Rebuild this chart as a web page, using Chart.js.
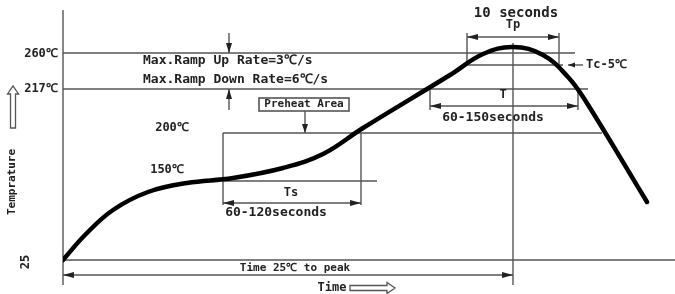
<!DOCTYPE html>
<html>
<head>
<meta charset="utf-8">
<script src="https://cdn.jsdelivr.net/npm/chart.js@4"></script>
<style>
html, body { margin: 0; padding: 0; background: #fff; }
</style>
</head>
<body>
<canvas id="myChart" width="675" height="294"></canvas>
<script>
// reflow profile, schematic units (time along x, height above the 25 line along y)
var times = [0, 22, 50, 85, 124, 170, 220, 260, 300, 387, 420, 450, 480, 505, 522, 584];
var temps = [0, 25, 50, 68, 77, 82, 92, 106, 132, 185, 206, 213, 205, 183, 160, 58];

// temperature levels of the drawing and their labels
var levels = [0, 79, 127, 171, 195, 207];
var levelLabels = ["25", "150℃", "200℃", "217℃", "Tc-5℃", "260℃"];

// time zones
var tsZone = [160, 298];
var tZone = [367, 515];
var tpZone = [404, 496];
var peakTime = 450;

var texts = {
	rampUp: "Max.Ramp Up Rate=3℃/s",
	rampDown: "Max.Ramp Down Rate=6℃/s",
	preheat: "Preheat Area",
	ts: "Ts",
	tsLen: "60-120seconds",
	t: "T",
	tLen: "60-150seconds",
	tp: "Tp",
	tpLen: "10 seconds",
	toPeak: "Time 25℃ to peak",
	xTitle: "Time",
	yTitle: "Temprature",
};

var INK = "#222";
var FONT = "'DejaVu Sans Mono', monospace";

function head(ctx, x, y, ang, len, w) {
	ctx.save();
	ctx.translate(x, y);
	ctx.rotate(ang);
	ctx.beginPath();
	ctx.moveTo(0, 0);
	ctx.lineTo(-len, -w);
	ctx.lineTo(-len, w);
	ctx.closePath();
	ctx.fill();
	ctx.restore();
}

function hollowArrow(ctx, x, y, len, ang) {
	ctx.save();
	ctx.translate(x, y);
	ctx.rotate(ang);
	ctx.beginPath();
	ctx.moveTo(0, -2.5);
	ctx.lineTo(len - 8, -2.5);
	ctx.lineTo(len - 8, -5.5);
	ctx.lineTo(len, 0);
	ctx.lineTo(len - 8, 5.5);
	ctx.lineTo(len - 8, 2.5);
	ctx.lineTo(0, 2.5);
	ctx.closePath();
	ctx.lineWidth = 1.3;
	ctx.stroke();
	ctx.restore();
}

var drawing = {
	id: "drawing",
	beforeDatasetsDraw: function (chart) {
		var ctx = chart.ctx;
		var xs = chart.scales.x, ys = chart.scales.y;
		var X = function (v) { return xs.getPixelForValue(v); };
		var Y = function (v) { return ys.getPixelForValue(v); };
		function seg(x1, y1, x2, y2) {
			ctx.beginPath();
			ctx.moveTo(X(x1), Y(y1));
			ctx.lineTo(X(x2), Y(y2));
			ctx.stroke();
		}
		function dim(x1, x2, y) {
			seg(x1, y, x2, y);
			head(ctx, X(x1), Y(y), Math.PI, 11, 3);
			head(ctx, X(x2), Y(y), 0, 11, 3);
		}
		function label(s, x, y, size, align) {
			ctx.font = "bold " + size + "px " + FONT;
			ctx.textAlign = align || "center";
			ctx.textBaseline = "middle";
			ctx.fillText(s, X(x), Y(y));
		}

		ctx.save();
		ctx.strokeStyle = "#555";
		ctx.fillStyle = "#222";
		ctx.lineWidth = 1.4;

		// axes
		seg(0, 250, 0, -25);
		seg(0, levels[0], 612, levels[0]);

		// level lines
		seg(0, levels[5], 512, levels[5]);
		seg(tpZone[0] - 4, levels[4], 500, levels[4]);
		seg(0, levels[3], 525, levels[3]);
		seg(tsZone[0], levels[2], 539, levels[2]);
		seg(tsZone[0], levels[1], 314, levels[1]);

		// Ts zone
		seg(tsZone[0], levels[2], tsZone[0], 55);
		seg(tsZone[1], levels[2], tsZone[1], 55);
		dim(tsZone[0], tsZone[1], 57);

		// T zone
		seg(tZone[0], levels[3], tZone[0], 150);
		seg(tZone[1], levels[3], tZone[1], 150);
		dim(tZone[0], tZone[1], 154);

		// Tp zone
		seg(tpZone[0], 227, tpZone[0], levels[4]);
		seg(tpZone[1], 227, tpZone[1], levels[4]);
		dim(tpZone[0], tpZone[1], 223);

		// peak line and time to peak
		seg(peakTime, 217, peakTime, -25);
		dim(0, peakTime, -15);

		// ramp rate arrows
		seg(166, 227, 166, levels[5]);
		head(ctx, X(166), Y(levels[5]), Math.PI / 2, 10, 3);
		seg(166, 150, 166, levels[3]);
		head(ctx, X(166), Y(levels[3]), -Math.PI / 2, 10, 3);

		// preheat box
		ctx.lineWidth = 1.6;
		ctx.strokeRect(X(196), Y(162), X(286) - X(196), Y(149) - Y(162));
		ctx.lineWidth = 1.4;
		seg(242, 149, 242, levels[2]);
		head(ctx, X(242), Y(levels[2]), Math.PI / 2, 9, 3);

		// Tc-5 pointer
		seg(505, levels[4], 520, levels[4]);
		head(ctx, X(505), Y(levels[4]), Math.PI, 7, 2.5);

		// texts
		ctx.fillStyle = INK;
		label(texts.rampUp, 80, 199, 13, "left");
		label(texts.rampDown, 80, 180, 13, "left");
		label(texts.preheat, 241, 155.5, 11);
		label(levelLabels[5], -22, 206, 12);
		label(levelLabels[3], -22, 171, 12);
		label(levelLabels[2], 109, 132, 12);
		label(levelLabels[1], 104, 90, 12);
		label(levelLabels[4], 523, levels[4], 12, "left");
		label(texts.ts, 228, 67, 12);
		label(texts.tsLen, 213, 47, 13);
		label(texts.t, 440, 165, 12);
		label(texts.tLen, 430, 142, 13);
		label(texts.tp, 450, 235, 12);
		label(texts.tpLen, 453, 247, 14);
		label(texts.toPeak, 232, -8, 11);
		label(texts.xTitle, 269, -28, 12);
		hollowArrow(ctx, X(287), Y(-28), 45, 0);

		// rotated labels
		ctx.save();
		ctx.translate(X(-37), Y(levels[0]) + 2);
		ctx.rotate(-Math.PI / 2);
		ctx.font = "bold 12px " + FONT;
		ctx.textAlign = "center";
		ctx.textBaseline = "middle";
		ctx.fillText(levelLabels[0], 0, 0);
		ctx.restore();

		ctx.save();
		ctx.translate(X(-51), Y(78));
		ctx.rotate(-Math.PI / 2);
		ctx.font = "bold 11px " + FONT;
		ctx.textAlign = "center";
		ctx.textBaseline = "middle";
		ctx.fillText(texts.yTitle, 0, 0);
		ctx.restore();
		hollowArrow(ctx, X(-50), Y(132), 42, -Math.PI / 2);

		ctx.restore();
	},
};

var points = times.map(function (t, i) {
	return { x: t, y: temps[i] };
});

var ctx = document.getElementById("myChart").getContext("2d");
var myChart = new Chart(ctx, {
	type: "line",
	data: {
		datasets: [
			{
				label: "Profile",
				data: points,
				borderColor: "#000",
				borderWidth: 4.5,
				pointRadius: 0,
				tension: 0.4,
				borderCapStyle: "round",
				fill: false,
			},
		],
	},
	options: {
		responsive: false,
		animation: false,
		layout: { padding: { left: 63, right: 0, top: 0, bottom: 0 } },
		scales: {
			x: { type: "linear", min: 0, max: 612, display: false },
			y: { min: -34, max: 260, display: false },
		},
		plugins: {
			legend: { display: false },
			tooltip: { enabled: false },
		},
	},
	plugins: [drawing],
});
</script>
</body>
</html>
